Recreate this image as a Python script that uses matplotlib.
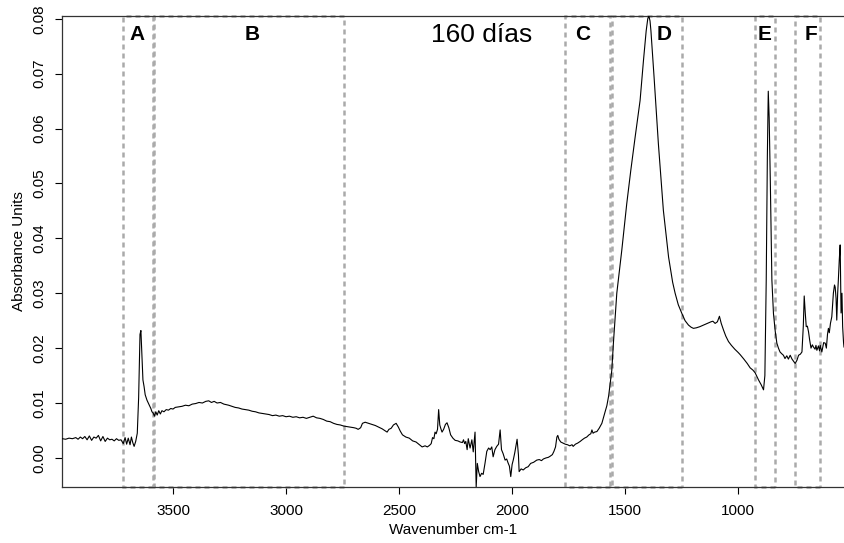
import matplotlib.pyplot as plt
from matplotlib.patches import Rectangle

plt.rcParams["font.family"] = ["Liberation Sans", "DejaVu Sans"]

# spectrum (wavenumber, absorbance)
wavenumber = [
    3990, 3975, 3960, 3945, 3930, 3920, 3910, 3900, 3890, 3880, 3870, 3860,
    3850, 3840, 3830, 3820, 3810, 3800, 3790, 3780, 3770, 3760, 3750, 3740,
    3730, 3720, 3712, 3705, 3698, 3690, 3684, 3678, 3672, 3665, 3658, 3652,
    3646, 3642, 3638, 3633, 3628, 3623, 3615, 3605, 3598, 3593, 3588, 3582,
    3576, 3570, 3563, 3556, 3549, 3540, 3530, 3520, 3510, 3500, 3490, 3475,
    3460, 3445, 3430, 3415, 3400, 3385, 3370, 3355, 3342, 3330, 3318, 3305,
    3290, 3275, 3254, 3240, 3225, 3210, 3195, 3180, 3165, 3150, 3135, 3120,
    3106, 3090, 3075, 3060, 3045, 3030, 3015, 3000, 2985, 2970, 2955, 2940,
    2925, 2910, 2895, 2880, 2865, 2850, 2835, 2820, 2805, 2790, 2775, 2760,
    2745, 2730, 2715, 2700, 2690, 2681, 2670, 2662, 2650, 2635, 2620, 2605,
    2590, 2575, 2560, 2553, 2545, 2535, 2525, 2513, 2503, 2495, 2485, 2470,
    2455, 2440, 2425, 2410, 2398, 2385, 2375, 2365, 2358, 2352, 2346, 2341,
    2336, 2330, 2325, 2320, 2315, 2310, 2303, 2295, 2288, 2280, 2272, 2262,
    2252, 2240, 2230, 2220, 2215, 2210, 2205, 2199, 2194, 2186, 2178, 2172,
    2164, 2159, 2154, 2148, 2142, 2135, 2128, 2120, 2112, 2104, 2097, 2090,
    2084, 2076, 2068, 2060, 2053, 2047, 2040, 2031, 2024, 2018, 2012, 2006,
    2000, 1995, 1988, 1978, 1972, 1969, 1960, 1951, 1940, 1929, 1918, 1905,
    1891, 1880, 1870, 1862, 1850, 1840, 1832, 1822, 1815, 1808, 1802, 1798,
    1793, 1785, 1775, 1765, 1755, 1745, 1735, 1730, 1720, 1710, 1699, 1690,
    1680, 1670, 1660, 1652, 1647, 1642, 1635, 1625, 1615, 1603, 1595, 1588,
    1581, 1573, 1566, 1559, 1552, 1537, 1515, 1493, 1475, 1456, 1434, 1419,
    1407, 1400, 1395, 1390, 1386, 1372, 1353, 1331, 1308, 1290, 1279, 1265,
    1249, 1235, 1220, 1208, 1198, 1185, 1170, 1153, 1135, 1120, 1112, 1102,
    1092, 1083, 1075, 1065, 1055, 1043, 1030, 1015, 1000, 991, 975, 960,
    947, 935, 925, 910, 898, 888, 882, 876, 871, 867, 863, 858,
    851, 844, 836, 829, 822, 815, 808, 800, 793, 785, 778, 770,
    762, 755, 748, 740, 733, 725, 718, 712, 708, 703, 699, 694,
    689, 684, 678, 672, 667, 660, 656, 652, 645, 640, 637, 630,
    622, 615, 610, 605, 601, 597, 592, 586, 579, 574, 571, 567,
    564, 560, 557, 553, 549, 547, 545, 541, 538, 534, 532,
]
absorbance = [
    0.0035, 0.0034, 0.0036, 0.0035, 0.0037, 0.0034, 0.0038, 0.0035, 0.0039, 0.0033, 0.0040, 0.0032,
    0.0038, 0.0036, 0.0041, 0.0031, 0.0039, 0.0030, 0.0036, 0.0033, 0.0034, 0.0031, 0.0035, 0.0032,
    0.0033, 0.0026, 0.0037, 0.0025, 0.0036, 0.0024, 0.0038, 0.0028, 0.0021, 0.0030, 0.0045, 0.0110,
    0.0225, 0.0232, 0.0190, 0.0142, 0.0130, 0.0115, 0.0105, 0.0096, 0.0090, 0.0084, 0.0082, 0.0076,
    0.0084, 0.0078, 0.0086, 0.0080, 0.0086, 0.0084, 0.0088, 0.0087, 0.0090, 0.0089, 0.0092, 0.0093,
    0.0094, 0.0096, 0.0095, 0.0098, 0.0099, 0.0101, 0.0100, 0.0103, 0.0104, 0.0101, 0.0103, 0.0100,
    0.0101, 0.0098, 0.0096, 0.0094, 0.0092, 0.0091, 0.0089, 0.0088, 0.0087, 0.0085, 0.0084, 0.0082,
    0.0081, 0.0080, 0.0079, 0.0077, 0.0078, 0.0076, 0.0077, 0.0075, 0.0076, 0.0074, 0.0075, 0.0073,
    0.0074, 0.0072, 0.0074, 0.0076, 0.0073, 0.0072, 0.0070, 0.0067, 0.0066, 0.0063, 0.0061, 0.0060,
    0.0058, 0.0057, 0.0056, 0.0055, 0.0054, 0.0052, 0.0055, 0.0063, 0.0065, 0.0063, 0.0061, 0.0059,
    0.0056, 0.0053, 0.0049, 0.0047, 0.0052, 0.0054, 0.0060, 0.0063, 0.0056, 0.0049, 0.0042, 0.0038,
    0.0036, 0.0031, 0.0029, 0.0024, 0.0020, 0.0022, 0.0020, 0.0023, 0.0026, 0.0037, 0.0035, 0.0047,
    0.0044, 0.0052, 0.0088, 0.0060, 0.0053, 0.0047, 0.0052, 0.0061, 0.0064, 0.0055, 0.0042, 0.0036,
    0.0032, 0.0031, 0.0029, 0.0028, 0.0033, 0.0026, 0.0030, 0.0015, 0.0035, 0.0018, 0.0033, 0.0011,
    0.0047, -0.0053, -0.0010, -0.0025, -0.0034, -0.0028, -0.0030, -0.0010, 0.0012, 0.0018, 0.0015, 0.0020,
    0.0002, 0.0015, 0.0021, 0.0025, 0.0051, 0.0015, 0.0008, -0.0004, -0.0002, -0.0009, -0.0015, -0.0034,
    -0.0012, -0.0004, 0.0010, 0.0034, 0.0005, -0.0025, -0.0020, -0.0022, -0.0018, -0.0016, -0.0010, -0.0008,
    -0.0004, -0.0003, -0.0005, -0.0002, 0.0000, 0.0001, 0.0003, 0.0006, 0.0012, 0.0020, 0.0038, 0.0041,
    0.0034, 0.0029, 0.0027, 0.0025, 0.0024, 0.0022, 0.0024, 0.0021, 0.0025, 0.0027, 0.0030, 0.0033,
    0.0036, 0.0038, 0.0042, 0.0044, 0.0051, 0.0045, 0.0047, 0.0048, 0.0054, 0.0063, 0.0075, 0.0085,
    0.0095, 0.0113, 0.0136, 0.0160, 0.0209, 0.0300, 0.0378, 0.0463, 0.0524, 0.0584, 0.0651, 0.0724,
    0.0778, 0.0800, 0.0805, 0.0796, 0.0778, 0.0693, 0.0572, 0.0451, 0.0366, 0.0320, 0.0300, 0.0279,
    0.0263, 0.0250, 0.0242, 0.0238, 0.0236, 0.0237, 0.0239, 0.0242, 0.0245, 0.0248, 0.0249, 0.0245,
    0.0248, 0.0258, 0.0245, 0.0233, 0.0222, 0.0212, 0.0205, 0.0198, 0.0192, 0.0188, 0.0180, 0.0172,
    0.0164, 0.0160, 0.0155, 0.0142, 0.0133, 0.0124, 0.0150, 0.0324, 0.0550, 0.0668, 0.0620, 0.0505,
    0.0324, 0.0263, 0.0230, 0.0209, 0.0200, 0.0193, 0.0190, 0.0187, 0.0181, 0.0186, 0.0180, 0.0187,
    0.0180, 0.0176, 0.0172, 0.0178, 0.0187, 0.0189, 0.0193, 0.0240, 0.0295, 0.0262, 0.0239, 0.0240,
    0.0230, 0.0215, 0.0200, 0.0206, 0.0202, 0.0198, 0.0205, 0.0196, 0.0204, 0.0195, 0.0205, 0.0193,
    0.0210, 0.0209, 0.0200, 0.0225, 0.0236, 0.0228, 0.0245, 0.0257, 0.0300, 0.0315, 0.0311, 0.0290,
    0.0251, 0.0300, 0.0324, 0.0360, 0.0388, 0.0330, 0.0264, 0.0300, 0.0239, 0.0210, 0.0202,
]

# spectral regions (start, end) and their letters
region_starts = [3720, 3585, 1765, 1560, 925, 748]
region_ends = [3590, 2745, 1565, 1250, 837, 640]
region_labels = ["A", "B", "C", "D", "E", "F"]
label_positions = [3660, 3150, 1690, 1327, 885, 677]

title_text = "160 días"
title_position = 2137

x_ticks = [3500, 3000, 2500, 2000, 1500, 1000]
y_ticks = [0.00, 0.01, 0.02, 0.03, 0.04, 0.05, 0.06, 0.07, 0.08]

fig = plt.figure(figsize=(8.44, 5.43), dpi=100)
ax = fig.add_axes([62 / 844, 1 - 487 / 543, (844 - 62) / 844, (487 - 16) / 543])

ax.plot(wavenumber, absorbance, color="black", linewidth=0.8, zorder=3)

ymin, ymax = -0.0053, 0.0805
ax.set_xlim(3991, 532)
ax.set_ylim(ymin, ymax)

for start, end in zip(region_starts, region_ends):
    ax.add_patch(
        Rectangle(
            (end, ymin),
            start - end,
            ymax - ymin,
            fill=False,
            edgecolor="#aaaaaa",
            linewidth=1.8,
            linestyle=(0, (2.0, 1.6)),
            clip_on=False,
            zorder=2,
        )
    )

for label, pos in zip(region_labels, label_positions):
    ax.text(pos, 0.0771, label, ha="center", va="center", fontsize=15, fontweight="bold")
ax.text(title_position, 0.0771, title_text, ha="center", va="center", fontsize=19)

ax.set_xticks(x_ticks)
ax.set_yticks(y_ticks)
ax.set_yticklabels([f"{v:.2f}" for v in y_ticks], rotation=90, va="center")
ax.tick_params(axis="both", direction="out", length=5, width=0.8, labelsize=11, colors="black")
ax.tick_params(axis="x", pad=7)
ax.tick_params(axis="y", pad=6)

for side in ["left", "bottom", "top"]:
    ax.spines[side].set_color("#333333")
    ax.spines[side].set_linewidth(0.9)
ax.spines["right"].set_visible(False)

ax.set_xlabel("Wavenumber cm-1", fontsize=11, labelpad=4)
ax.set_ylabel("Absorbance Units", fontsize=11, labelpad=5)

fig.savefig("out.png", dpi=100)
